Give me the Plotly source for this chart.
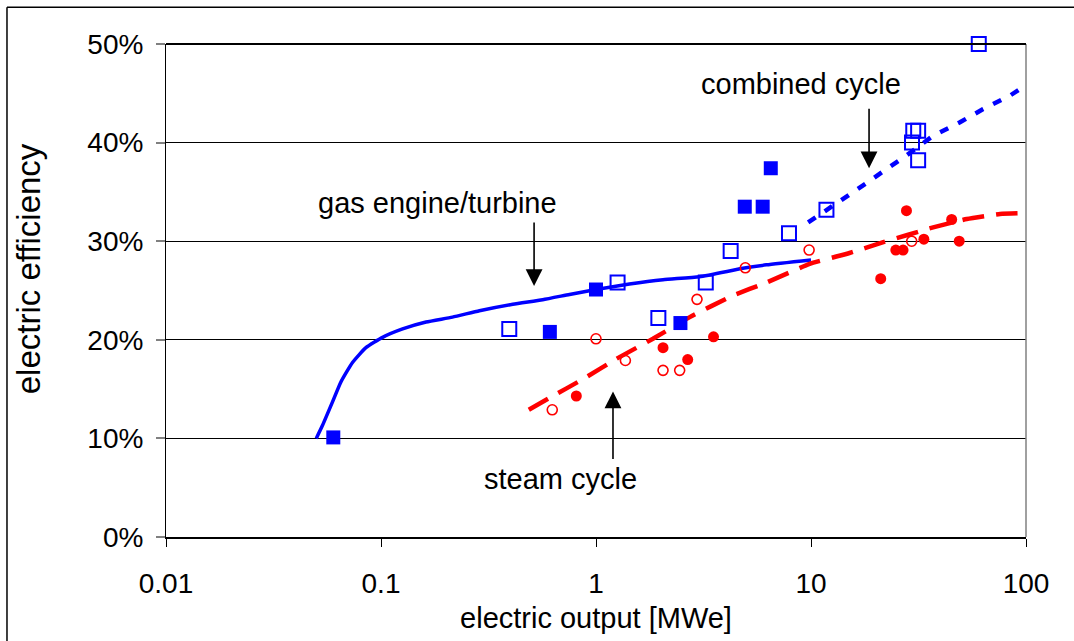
import plotly.graph_objects as go

# ---- data ----
gas_filled_x = [0.06, 0.61, 1.0, 2.47, 4.92, 5.96, 6.5]
gas_filled_y = [10.1, 20.8, 25.1, 21.7, 33.5, 33.5, 37.4]

gas_open_x = [0.395, 1.26, 1.95, 3.24, 4.23, 7.9, 11.8, 29.9, 31.5, 29.5, 31.5, 60.3]
gas_open_y = [21.1, 25.8, 22.2, 25.8, 29.0, 30.8, 33.2, 41.2, 41.2, 40.0, 38.2, 50.0]

steam_filled_x = [0.81, 2.05, 2.67, 3.52, 27.8, 21.1, 24.8, 26.8, 33.5, 45.1, 48.9]
steam_filled_y = [14.3, 19.2, 18.0, 20.3, 33.1, 26.2, 29.1, 29.1, 30.2, 32.2, 30.0]

steam_open_x = [0.626, 1.0, 1.37, 2.05, 2.45, 2.95, 4.95, 9.8, 29.4]
steam_open_y = [12.9, 20.1, 17.9, 16.9, 16.9, 24.1, 27.3, 29.1, 30.0]

gas_line_x = [0.05, 0.0534, 0.0595, 0.065, 0.0737, 0.0851, 0.1017, 0.126, 0.162, 0.215,
              0.287, 0.41, 0.565, 0.753, 1.0, 1.43, 2.05, 3.03, 4.82, 6.2, 10]
gas_line_y = [10, 11.3, 13.7, 15.7, 17.7, 19.2, 20.25, 21.1, 21.8, 22.3,
              22.95, 23.6, 24.07, 24.6, 25.1, 25.66, 26.1, 26.4, 27.25, 27.6, 28.1]

cc_line_x = [9.7, 14.6, 18.4, 22.4, 27.8, 37, 49.3, 63.2, 84.2, 110]
cc_line_y = [31.9, 34.45, 36.0, 37.3, 38.7, 40.7, 42.06, 43.4, 44.76, 46.45]

steam_line_x = [0.487, 0.618, 0.868, 1.24, 1.84, 2.73, 4.34, 6.2, 9.86, 15.1, 21.7, 37, 53, 75.7, 110]
steam_line_y = [12.9, 14.2, 16.0, 18.05, 20.1, 22.3, 24.5, 25.8, 27.7, 28.8, 29.9, 31.4, 32.25, 32.76, 32.86]

x_tickvals = [0.01, 0.1, 1, 10, 100]
x_ticktext = ["0.01", "0.1", "1", "10", "100"]
y_tickvals = [0, 10, 20, 30, 40, 50]
y_ticktext = ["0%", "10%", "20%", "30%", "40%", "50%"]

BLUE = "#0000FF"
RED = "#FF0000"
FONT = "Liberation Sans, Arial, sans-serif"

fig = go.Figure()

fig.add_trace(go.Scatter(x=gas_line_x, y=gas_line_y, mode="lines",
                         line=dict(color=BLUE, width=3.5, shape="spline", smoothing=0.5),
                         hoverinfo="skip"))
fig.add_trace(go.Scatter(x=cc_line_x, y=cc_line_y, mode="lines",
                         line=dict(color=BLUE, width=4.5, dash="9px,11px"),
                         hoverinfo="skip"))
fig.add_trace(go.Scatter(x=steam_line_x, y=steam_line_y, mode="lines",
                         line=dict(color=RED, width=4.5, dash="22px,12px", shape="spline", smoothing=0.4),
                         hoverinfo="skip"))

fig.add_trace(go.Scatter(x=gas_open_x, y=gas_open_y, mode="markers", cliponaxis=False,
                         marker=dict(symbol="square-open", size=14, color=BLUE, line=dict(width=2, color=BLUE))))
fig.add_trace(go.Scatter(x=gas_filled_x, y=gas_filled_y, mode="markers", cliponaxis=False,
                         marker=dict(symbol="square", size=14, color=BLUE, line=dict(width=0))))
fig.add_trace(go.Scatter(x=steam_open_x, y=steam_open_y, mode="markers", cliponaxis=False,
                         marker=dict(symbol="circle-open", size=10, color=RED, line=dict(width=1.6, color=RED))))
fig.add_trace(go.Scatter(x=steam_filled_x, y=steam_filled_y, mode="markers", cliponaxis=False,
                         marker=dict(symbol="circle", size=11, color=RED, line=dict(width=0))))

# annotations: labels
lab_font = dict(family=FONT, size=29, color="black")
fig.add_annotation(x=-0.735, y=33.9, xref="x", yref="y", text="gas engine/turbine",
                   showarrow=False, font=lab_font)
fig.add_annotation(x=0.953, y=45.9, xref="x", yref="y", text="combined cycle",
                   showarrow=False, font=lab_font)
fig.add_annotation(x=-0.167, y=5.9, xref="x", yref="y", text="steam cycle",
                   showarrow=False, font=lab_font)

# y-axis title placed as a rotated annotation
fig.add_annotation(x=-0.1605, y=0.545, xref="paper", yref="paper", text="electric efficiency",
                   textangle=-90, showarrow=False, font=dict(family=FONT, size=33, color="black"),
                   xanchor="center", yanchor="middle")

# arrows
arrow_kw = dict(showarrow=True, arrowhead=2, arrowwidth=1.6, arrowsize=2.1,
                arrowcolor="black", text="", xref="x", yref="y", axref="pixel", ayref="pixel")
fig.add_annotation(x=-0.288, y=25.45, ax=0, ay=-65, **arrow_kw)
fig.add_annotation(x=1.27, y=37.4, ax=0, ay=-61, **arrow_kw)
fig.add_annotation(x=0.079, y=14.75, ax=0, ay=69, **arrow_kw)

# frame pieces
fig.add_shape(type="line", xref="paper", yref="paper", x0=1, x1=1, y0=0, y1=1,
              line=dict(color="#808080", width=1.5))
fig.add_shape(type="line", xref="paper", yref="paper", x0=0, x1=1, y0=1, y1=1,
              line=dict(color="black", width=2))
# outer chart border (left and top)
fig.add_shape(type="line", xref="paper", yref="paper", x0=-0.1849, x1=-0.1849, y0=-0.3, y1=1.0747,
              line=dict(color="black", width=1.5))
fig.add_shape(type="line", xref="paper", yref="paper", x0=-0.1849, x1=1.2, y0=1.0747, y1=1.0747,
              line=dict(color="black", width=1.5))

fig.update_layout(
    width=1074, height=641,
    margin=dict(l=166, r=48, t=44, b=102),
    paper_bgcolor="white", plot_bgcolor="white",
    showlegend=False,
    font=dict(family=FONT, size=28, color="black"),
    xaxis=dict(type="log", range=[-2, 2], tickvals=x_tickvals, ticktext=x_ticktext,
               showgrid=False, zeroline=False, showline=True, linecolor="black", linewidth=2,
               ticks="outside", ticklen=8, tickwidth=1, tickcolor="black",
               tickfont=dict(family=FONT, size=28), ticklabelstandoff=12,
               title=dict(text="electric output [MWe]", font=dict(family=FONT, size=29), standoff=10)),
    yaxis=dict(range=[0, 50], tickvals=y_tickvals, ticktext=y_ticktext,
               showgrid=True, gridcolor="black", gridwidth=1, zeroline=False,
               showline=True, linecolor="black", linewidth=1,
               ticks="outside", ticklen=9, tickwidth=2, tickcolor="#808080",
               tickfont=dict(family=FONT, size=28), ticklabelstandoff=7),
)

fig.write_html("out.html")
